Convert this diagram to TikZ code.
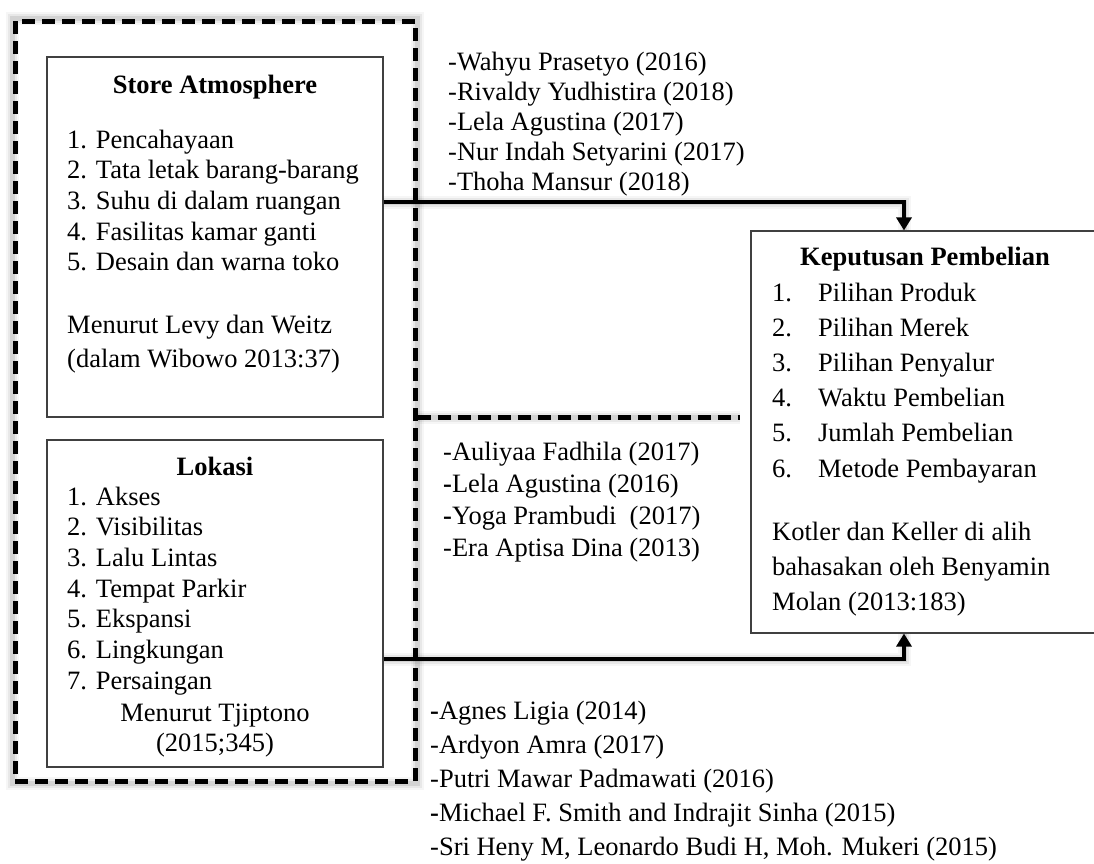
\documentclass[tikz,border=0pt]{standalone}
\usepackage{fontspec}
\setmainfont{Liberation Serif}
\usetikzlibrary{arrows.meta,backgrounds}
\newcommand\myfs{\fontsize{26.5}{30}\selectfont}
\begin{document}
\begin{tikzpicture}[x=1pt,y=-1pt,
  t/.style={inner sep=0pt,anchor=base west,font=\myfs},
  tc/.style={inner sep=0pt,anchor=base,font=\myfs},
  tb/.style={inner sep=0pt,anchor=base,font=\myfs\bfseries},
  box/.style={draw=black!75,line width=1.1pt,inner sep=0pt,fill=white},
  dashbox/.style={draw=black,line width=5pt,dash pattern=on 13pt off 7pt,inner sep=0pt},
  dashline/.style={draw=black,line width=5pt,dash pattern=on 13pt off 7pt},
  shA/.style={draw=black,opacity=0.035,line width=13pt},
  shB/.style={draw=black,opacity=0.06,line width=9pt},
  shC/.style={draw=black,opacity=0.09,line width=5pt},
  conn/.style={draw=black,line width=4.5pt},
  tip/.style={-{Triangle[length=13pt,width=15pt]}}
]
\useasboundingbox (0,0) rectangle (1094,863);
\clip (0,0) rectangle (1094,863);

% boxes
\node[dashbox,minimum width=400pt,minimum height=760pt] (outer) at (215,401) {};
\node[box,minimum width=336pt,minimum height=360pt] (sa) at (215,237) {};
\node[box,minimum width=336pt,minimum height=327pt] (lok) at (215,603.5) {};
\node[box,minimum width=360pt,minimum height=402pt] (kp) at (931,432) {};

\coordinate (c1) at (904,202);
\coordinate (c2) at (904,659);
\coordinate (d1) at (740,417);

% shadows
\begin{scope}[on background layer,transform canvas={xshift=3pt,yshift=-4pt}]
  \foreach \s in {shA,shB,shC}{
    \draw[\s] (outer.north west) rectangle (outer.south east);
    \draw[\s] (d1 -| outer.east) -- (d1);
    \draw[\s] (c1 -| sa.east) -- (c1) -- (c1 |- kp.north);
    \draw[\s] (c2 -| lok.east) -- (c2) -- (c2 |- kp.south);
  }
\end{scope}

% connectors
\draw[conn,tip] (c1 -| sa.east) -- (c1) -- (c1 |- kp.north);
\draw[conn,tip] (c2 -| lok.east) -- (c2) -- (c2 |- kp.south);
\draw[dashline] (d1 -| outer.east) -- (d1);

% Store Atmosphere
\node[tb] (satitle) at (215,93) {Store Atmosphere};
\foreach \s [count=\i] in {{1. Pencahayaan},{2. Tata letak barang-barang},{3. Suhu di dalam ruangan},{4. Fasilitas kamar ganti},{5. Desain dan warna toko}}
  \node[t] (sai\i) at (67,{148+30.7*(\i-1)}) {\s};
\node[t] (sacit1) at (67,333) {Menurut Levy dan Weitz};
\node[t] (sacit2) at (67,367) {(dalam Wibowo 2013:37)};

% Lokasi
\node[tb] (loktitle) at (215,475) {Lokasi};
\foreach \s [count=\i] in {{1. Akses},{2. Visibilitas},{3. Lalu Lintas},{4. Tempat Parkir},{5. Ekspansi},{6. Lingkungan},{7. Persaingan}}
  \node[t] (loki\i) at (67,{505+30.7*(\i-1)}) {\s};
\node[tc] (lokcit1) at (215,721) {Menurut Tjiptono};
\node[tc] (lokcit2) at (215,751) {(2015;345)};

% Keputusan Pembelian
\node[tb] (kptitle) at (925,265) {Keputusan Pembelian};
\foreach \s [count=\i] in {{Pilihan Produk},{Pilihan Merek},{Pilihan Penyalur},{Waktu Pembelian},{Jumlah Pembelian},{Metode Pembayaran}}
  \node[t] (kpi\i) at (772,{301+35.2*(\i-1)}) {\makebox[46pt][l]{\i.}\s};
\node[t] (kpcit1) at (772,540) {Kotler dan Keller di alih};
\node[t] (kpcit2) at (772,575) {bahasakan oleh Benyamin};
\node[t] (kpcit3) at (772,610) {Molan (2013:183)};

% references
\foreach \s [count=\i] in {{-Wahyu Prasetyo (2016)},{-Rivaldy Yudhistira (2018)},{-Lela Agustina (2017)},{-Nur Indah Setyarini (2017)},{-Thoha Mansur (2018)}}
  \node[t] (ra\i) at (448,{70+30*(\i-1)}) {\s};
\foreach \s [count=\i] in {{-Auliyaa Fadhila (2017)},{\textbf{-}Lela Agustina (2016)},{\textbf{-}Yoga Prambudi \ (2017)},{-Era Aptisa Dina (2013)}}
  \node[t] (rb\i) at (443,{460+32*(\i-1)}) {\s};
\foreach \s [count=\i] in {{\textbf{-}Agnes Ligia (2014)},{-Ardyon Amra (2017)},{-Putri Mawar Padmawati (2016)},{\textbf{-}Michael F. Smith and Indrajit Sinha (2015)},{-Sri Heny M, Leonardo Budi H, Moh. Mukeri (2015)}}
  \node[t] (rc\i) at (430,{719+34.2*(\i-1)}) {\s};
\end{tikzpicture}
\end{document}
